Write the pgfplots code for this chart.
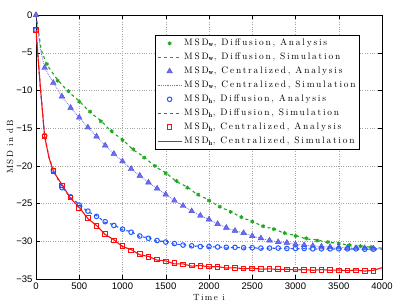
\documentclass[border=0pt]{standalone}
\usepackage{fontspec}
\usepackage{pgfplots}
\pgfplotsset{compat=1.18}
\usepackage{pgfplotstable}
\newfontfamily\lsfont{lmroman10-regular.otf}[LetterSpace=16]
\newfontfamily\lgfont{lmroman10-regular.otf}[LetterSpace=19]
\newfontfamily\tickfont{Liberation Sans}

\definecolor{cgreen}{rgb}{0.13,0.65,0.13}
\definecolor{ctri}{rgb}{0.42,0.42,1.00}
\definecolor{cblue}{rgb}{0.15,0.35,1.00}
\definecolor{cred}{rgb}{1.00,0.05,0.05}

\pgfplotstableread{
x y
0 0
125 -6.5
250 -8.7
375 -10.1
500 -11.5
625 -12.8
750 -14.1
875 -15.4
1000 -16.6
1125 -17.8
1250 -18.9
1375 -20.0
1500 -21.0
1625 -22.0
1750 -22.9
1875 -23.8
2000 -24.6
2125 -25.4
2250 -26.1
2375 -26.8
2500 -27.4
2625 -28.0
2750 -28.4
2875 -28.9
3000 -29.3
3125 -29.6
3250 -29.9
3375 -30.1
3500 -30.3
3625 -30.5
3750 -30.65
3875 -30.75
}\wdiff

\pgfplotstableread{
x y
0 0
60 -4.6
125 -6.6
250 -8.6
375 -10.2
500 -11.4
625 -12.9
750 -14.0
875 -15.5
1000 -16.5
1125 -17.9
1250 -18.8
1375 -20.1
1500 -20.9
1625 -22.1
1750 -22.8
1875 -23.9
2000 -24.5
2125 -25.5
2250 -26.0
2375 -26.9
2500 -27.3
2625 -28.1
2750 -28.3
2875 -29.0
3000 -29.2
3125 -29.7
3250 -29.8
3375 -30.2
3500 -30.2
3625 -30.6
3750 -30.6
3875 -30.8
4000 -30.9
}\wdiffsim

\pgfplotstableread{
x y
0 0
100 -7.0
200 -9.0
300 -10.8
400 -12.3
500 -13.6
600 -14.9
700 -16.1
800 -17.3
900 -18.4
1000 -19.4
1100 -20.4
1200 -21.3
1300 -22.2
1400 -23.0
1500 -23.8
1600 -24.6
1700 -25.3
1800 -26.0
1900 -26.6
2000 -27.1
2100 -27.7
2200 -28.2
2300 -28.6
2400 -28.9
2500 -29.3
2600 -29.6
2700 -29.9
2800 -30.1
2900 -30.2
3000 -30.4
3100 -30.5
3200 -30.6
3300 -30.7
3400 -30.75
3500 -30.8
3600 -30.85
3700 -30.9
3800 -30.9
3900 -30.95
}\wcent

\pgfplotstableread{
x y
0 0
50 -4.5
100 -7.0
200 -9.0
300 -10.8
400 -12.3
500 -13.6
600 -14.9
700 -16.1
800 -17.3
900 -18.4
1000 -19.4
1100 -20.4
1200 -21.3
1300 -22.2
1400 -23.0
1500 -23.8
1600 -24.6
1700 -25.3
1800 -26.0
1900 -26.6
2000 -27.1
2100 -27.7
2200 -28.2
2300 -28.6
2400 -28.9
2500 -29.3
2600 -29.6
2700 -29.9
2800 -30.1
2900 -30.2
3000 -30.4
3100 -30.5
3200 -30.6
3300 -30.7
3400 -30.75
3500 -30.8
3600 -30.85
3700 -30.9
3800 -30.9
3900 -30.95
4000 -31.0
}\wcentsim

\pgfplotstableread{
x y
0 -2.0
100 -16.0
200 -20.6
300 -22.9
400 -24.1
500 -25.2
600 -26.0
700 -26.7
800 -27.4
900 -27.9
1000 -28.4
1100 -28.8
1200 -29.3
1300 -29.6
1400 -29.9
1500 -30.1
1600 -30.3
1700 -30.5
1800 -30.6
1900 -30.7
2000 -30.7
2100 -30.75
2200 -30.8
2300 -30.8
2400 -30.85
2500 -30.85
2600 -30.9
2700 -30.9
2800 -30.9
2900 -30.95
3000 -30.95
3100 -30.95
3200 -31.0
3300 -31.0
3400 -31.0
3500 -31.0
3600 -31.0
3700 -31.0
3800 -31.05
3900 -31.05
}\hdiff

\pgfplotstableread{
x y
0 -2.0
50 -9.6
100 -16.0
150 -18.9
200 -20.6
300 -22.8
400 -24.2
500 -25.1
600 -26.1
700 -26.6
800 -27.5
900 -27.8
1000 -28.5
1100 -28.7
1200 -29.4
1300 -29.5
1400 -30.0
1500 -30.0
1600 -30.4
1700 -30.4
1800 -30.7
1900 -30.6
2000 -30.8
2100 -30.7
2200 -30.9
2300 -30.8
2400 -30.9
2500 -30.8
2600 -31.0
2700 -30.9
2800 -30.95
2900 -30.9
3000 -31.0
3100 -30.95
3200 -31.05
3300 -31.0
3400 -31.05
3500 -31.0
3600 -31.05
3700 -31.0
3800 -31.1
3900 -31.0
4000 -31.05
}\hdiffsim

\pgfplotstableread{
x y
0 -2.0
100 -16.1
200 -20.7
300 -22.6
400 -24.2
500 -25.6
600 -26.9
700 -28.0
800 -29.0
900 -29.9
1000 -30.6
1100 -31.2
1200 -31.7
1300 -32.1
1400 -32.4
1500 -32.7
1600 -32.9
1700 -33.1
1800 -33.2
1900 -33.3
2000 -33.35
2100 -33.4
2200 -33.5
2300 -33.55
2400 -33.6
2500 -33.6
2600 -33.65
2700 -33.7
2800 -33.7
2900 -33.75
3000 -33.75
3100 -33.8
3200 -33.8
3300 -33.8
3400 -33.8
3500 -33.85
3600 -33.85
3700 -33.85
3800 -33.9
3900 -33.9
}\hcent

\pgfplotstableread{
x y
0 -2.0
50 -9.5
100 -16.1
150 -18.9
200 -20.7
300 -22.5
400 -24.3
500 -25.5
600 -27.0
700 -27.9
800 -29.1
900 -29.8
1000 -30.7
1100 -31.1
1200 -31.8
1300 -32.0
1400 -32.5
1500 -32.6
1600 -33.0
1700 -33.0
1800 -33.3
1900 -33.2
2000 -33.4
2100 -33.35
2200 -33.55
2300 -33.5
2400 -33.65
2500 -33.55
2600 -33.7
2700 -33.65
2800 -33.75
2900 -33.7
3000 -33.8
3100 -33.75
3200 -33.85
3300 -33.75
3400 -33.85
3500 -33.8
3600 -33.9
3700 -33.8
3800 -33.95
3900 -33.85
4000 -33.5
}\hcentsim

\begin{document}
\begin{tikzpicture}
\begin{axis}[
  scale only axis,
  width=346pt, height=264pt,
  xmin=0, xmax=4000, ymin=-35, ymax=0,
  xtick={0,500,...,4000},
  xticklabels={0,500,1000,1500,2000,2500,3000,3500,4000},
  ytick={-35,-30,...,0},
  yticklabels={−35,−30,−25,−20,−15,−10,−5,0},
  tick label style={font=\tickfont\fontsize{9.5}{10}\selectfont},
  tick align=inside,
  grid=major,
  major grid style={dotted, gray!70},
  axis line style={black},
  tick style={black},
  xlabel={Time i},
  ylabel={MSD in dB},
  label style={font=\lsfont\fontsize{9}{10}\selectfont},
  xlabel style={at={(rel axis cs:0.5,-0.045)}, anchor=north},
  ylabel style={at={(rel axis cs:-0.075,0.5)}, anchor=center},
  legend cell align=left,
  legend style={at={(rel axis cs:0.936,0.924)}, anchor=north east,
    font=\lgfont\fontsize{9.4}{10}\selectfont,
    draw=black, fill=white, inner sep=2pt,
    row sep=1.8pt},
  mlegend/.style={legend image code/.code={\draw[##1] plot coordinates {(0.42cm,0cm)};}},
  llegend/.style={legend image code/.code={\draw[##1] (0cm,0cm) -- (0.84cm,0cm);}},
]
\addplot[only marks, mark=asterisk, mark size=2pt, cgreen, line width=1pt, mlegend] table {\wdiff};
\addlegendentry{MSD$_{\mathbf{w}}$, Diffusion, Analysis}
\addplot[cgreen, dashed, line width=1.1pt, llegend] table {\wdiffsim};
\addlegendentry{MSD$_{\mathbf{w}}$, Diffusion, Simulation}
\addplot[only marks, mark=triangle*, mark size=3.3pt, draw=ctri!75!black, fill=ctri, mark options={fill=ctri}, mlegend] table {\wcent};
\addlegendentry{MSD$_{\mathbf{w}}$, Centralized, Analysis}
\addplot[ctri, densely dotted, line width=0.8pt, llegend] table {\wcentsim};
\addlegendentry{MSD$_{\mathbf{w}}$, Centralized, Simulation}
\addplot[only marks, mark=o, mark size=2.3pt, cblue, line width=1pt, mlegend] table {\hdiff};
\addlegendentry{MSD$_{\mathbf{h}}$, Diffusion, Analysis}
\addplot[cblue, dashed, line width=1.1pt, llegend] table {\hdiffsim};
\addlegendentry{MSD$_{\mathbf{h}}$, Diffusion, Simulation}
\addplot[only marks, mark=square, mark size=2.3pt, cred, line width=1pt, mlegend] table {\hcent};
\addlegendentry{MSD$_{\mathbf{h}}$, Centralized, Analysis}
\addplot[cred, solid, line width=1.1pt, llegend] table {\hcentsim};
\addlegendentry{MSD$_{\mathbf{h}}$, Centralized, Simulation}
\end{axis}
\pgfresetboundingbox
\path (-36pt,-26pt) rectangle (367pt,279pt);
\end{tikzpicture}
\end{document}
